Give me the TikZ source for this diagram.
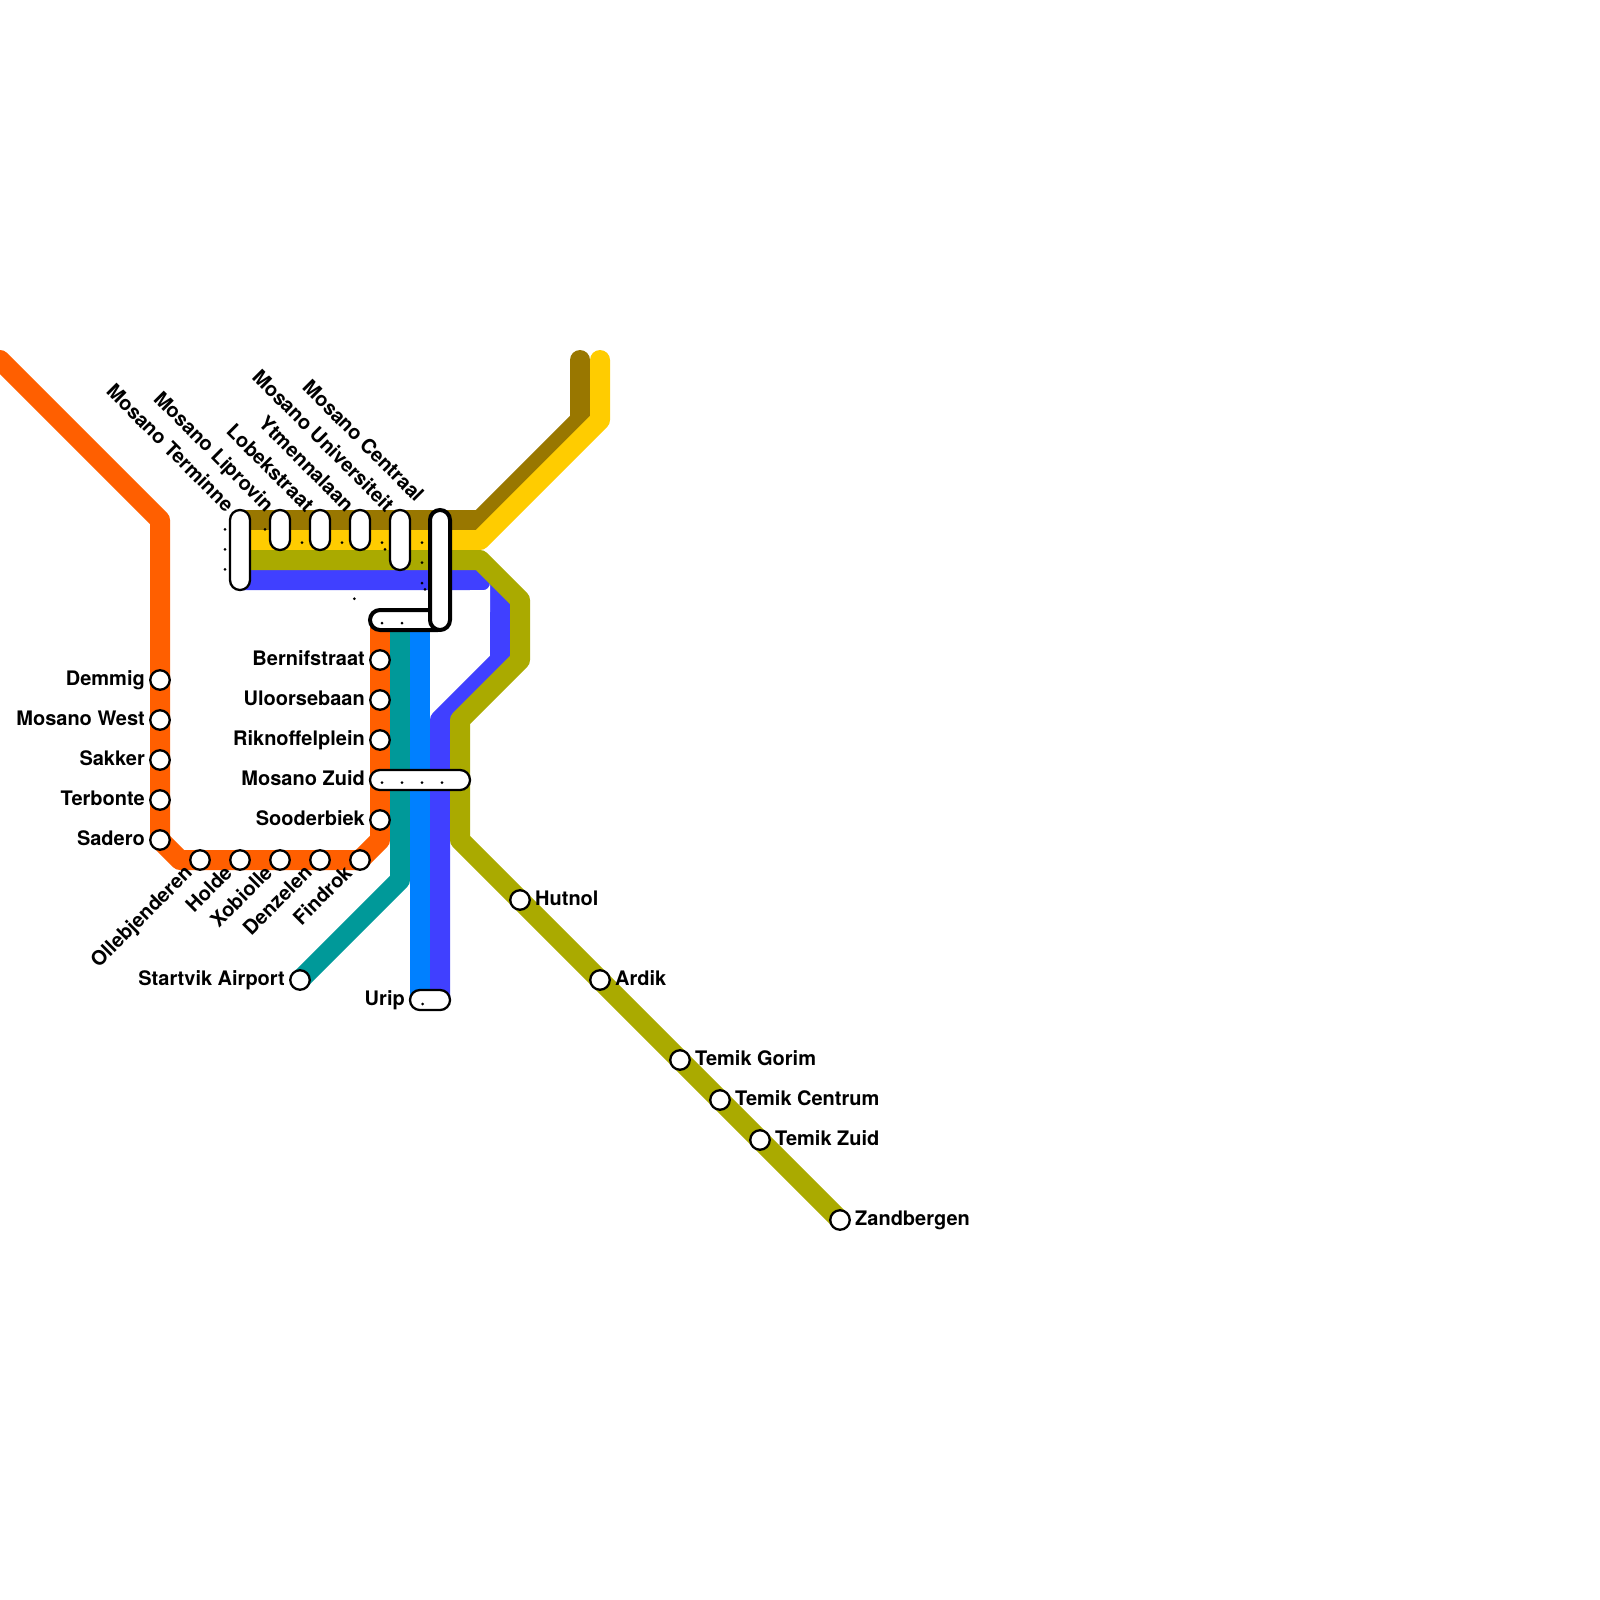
\documentclass[tikz,border=0pt]{standalone}
\usepackage{fontspec}
\setmainfont{TeX Gyre Heros}
\definecolor{cOrange}{HTML}{FF5F00}
\definecolor{cTeal}{HTML}{009999}
\definecolor{cBlue}{HTML}{0080FF}
\definecolor{cIndigo}{HTML}{4040FF}
\definecolor{cOlive}{HTML}{AAAA00}
\definecolor{cBrown}{HTML}{997700}
\definecolor{cYellow}{HTML}{FFCC00}
\tikzset{
  railline/.style={line width=20pt,line cap=round,line join=round},
  stn/.style={circle,draw=black,fill=white,line width=2.3pt,minimum size=19.5pt,inner sep=0pt},
  hub/.style={rectangle,rounded corners=9.9pt,draw=black,fill=white,line width=2.3pt,inner sep=0pt},
  bighub/.style={rectangle,rounded corners=10pt,draw=black,fill=white,line width=4pt,inner sep=0pt},
  lab/.style={font=\fontsize{20pt}{20pt}\selectfont\bfseries,inner sep=0pt,text=black},
  labl/.style={lab,anchor=base east},
  labr/.style={lab,anchor=base west},
  labd/.style={lab,anchor=base east,rotate=-45},
  labu/.style={lab,anchor=base east,rotate=45},
  dot/.style={fill=black},
}
\begin{document}
\begin{tikzpicture}[x=1pt,y=-1pt]
\useasboundingbox (0,0) rectangle (1600,1600);
% way points
\coordinate (oa) at (0,360); \coordinate (ob) at (160,520); \coordinate (oc) at (160,840);
\coordinate (od) at (180,860); \coordinate (oe) at (360,860); \coordinate (of) at (380,840); \coordinate (og) at (380,620);
\coordinate (ta) at (400,620); \coordinate (tb) at (400,880); \coordinate (tc) at (300,980);
\coordinate (ba) at (420,620); \coordinate (bb) at (420,1000);
\coordinate (ra) at (240,520); \coordinate (rb) at (480,520); \coordinate (rc) at (580,420); \coordinate (rd) at (580,360);
\coordinate (ya) at (240,540); \coordinate (yb) at (480,540); \coordinate (yc) at (600,420); \coordinate (yd) at (600,360);
\coordinate (ia) at (240,580); \coordinate (ib) at (480,580); \coordinate (ic) at (500,600); \coordinate (id) at (500,660); \coordinate (ie) at (440,720); \coordinate (if) at (440,1000);
\coordinate (la) at (240,560); \coordinate (lb) at (480,560); \coordinate (lc) at (520,600); \coordinate (ld) at (520,660); \coordinate (le) at (460,720); \coordinate (lf) at (460,840); \coordinate (lg) at (840,1220);
% lines
\draw[railline,cOrange] (oa)--(ob)--(oc)--(od)--(oe)--(of)--(og);
\draw[railline,cTeal] (ta)--(tb)--(tc);
\draw[railline,cBlue] (ba)--(bb);
\draw[railline,cBrown] (ra)--(rb)--(rc)--(rd);
\draw[railline,cYellow] (ya)--(yb)--(yc)--(yd);
\draw[railline,cIndigo] (ia)--(ib)--(ic)--(id)--(ie)--(if);
\fill[white] (470,590.2) -- (483,590.2) arc[start angle=90,end angle=0,radius=7] -- (490,612) -- (470,612) -- cycle;
\draw[railline,cOlive] (la)--(lb)--(lc)--(ld)--(le)--(lf)--(lg);
% interchanges
\node[hub,minimum width=20pt,minimum height=80pt] (terminne) at (240,550) {};
\node[hub,minimum width=20pt,minimum height=40pt] (liprovin) at (280,530) {};
\node[hub,minimum width=20pt,minimum height=40pt] (lobek) at (320,530) {};
\node[hub,minimum width=20pt,minimum height=40pt] (ytmen) at (360,530) {};
\node[hub,minimum width=20pt,minimum height=60pt] (univ) at (400,540) {};
\node[bighub,minimum width=78pt,minimum height=20pt] (centraalh) at (409,620) {};
\node[bighub,minimum width=20pt,minimum height=120pt] (centraal) at (440,570) {};
\node[hub,minimum width=100pt,minimum height=20pt] (zuid) at (420,780) {};
\node[hub,minimum width=40pt,minimum height=20pt] (urip) at (430,1000) {};
% stations
\node[stn] (demmig) at (160,680) {};
\node[stn] (west) at (160,720) {};
\node[stn] (sakker) at (160,760) {};
\node[stn] (terbonte) at (160,800) {};
\node[stn] (sadero) at (160,840) {};
\node[stn] (olle) at (200,860) {};
\node[stn] (holde) at (240,860) {};
\node[stn] (xobiolle) at (280,860) {};
\node[stn] (denzelen) at (320,860) {};
\node[stn] (findrok) at (360,860) {};
\node[stn] (sooder) at (380,820) {};
\node[stn] (rikn) at (380,740) {};
\node[stn] (uloor) at (380,700) {};
\node[stn] (bernif) at (380,660) {};
\node[stn] (startvik) at (300,980) {};
\node[stn] (hutnol) at (520,900) {};
\node[stn] (ardik) at (600,980) {};
\node[stn] (gorim) at (680,1060) {};
\node[stn] (centrum) at (720,1100) {};
\node[stn] (zuidt) at (760,1140) {};
\node[stn] (zand) at (840,1220) {};
% labels
\node[labl] (t1) at (145,685) {Demmig};
\node[labl] (t2) at (145,725) {Mosano West};
\node[labl] (t3) at (145,765) {Sakker};
\node[labl] (t4) at (145,805) {Terbonte};
\node[labl] (t5) at (145,845) {Sadero};
\node[labl] (t6) at (365,665) {Bernifstraat};
\node[labl] (t7) at (365,705) {Uloorsebaan};
\node[labl] (t8) at (365,745) {Riknoffelplein};
\node[labl] (t9) at (365,785) {Mosano Zuid};
\node[labl] (t10) at (365,825) {Sooderbiek};
\node[labl] (t11) at (285,985) {Startvik Airport};
\node[labl] (t12) at (405,1005) {Urip};
\node[labr] (t13) at (535,905) {Hutnol};
\node[labr] (t14) at (615,985) {Ardik};
\node[labr] (t15) at (695,1065) {Temik Gorim};
\node[labr] (t16) at (735,1105) {Temik Centrum};
\node[labr] (t17) at (775,1145) {Temik Zuid};
\node[labr] (t18) at (855,1225) {Zandbergen};
\node[labu] (t19) at (193.5,874) {Ollebjenderen};
\node[labu] (t20) at (233.5,874) {Holde};
\node[labu] (t21) at (273.5,874) {Xobiolle};
\node[labu] (t22) at (313.5,874) {Denzelen};
\node[labu] (t23) at (353.5,874) {Findrok};
\node[labd] (t24) at (225.5,513) {Mosano Terminne};
\node[labd] (t25) at (265.5,513) {Mosano Liprovin};
\node[labd] (t26) at (305.5,513) {Lobekstraat};
\node[labd] (t27) at (345.5,513) {Ytmennalaan};
\node[labd] (t28) at (385.5,513) {Mosano Universiteit};
\node[labd] (t29) at (415.5,503) {Mosano Centraal};
% stray dots
\foreach \p in {(225,529.3),(225,549.3),(225,569.3),(265,529.3),(302,542.7),(342,542.7),(382,542.7),(385,549.3),(422,542.7),(422,562.7),(422,583),(425,589.3),(354.3,598.7),(382,623),(402,623),(382,782.7),(402,782.7),(422,782.7),(442,782.7),(422.7,1004)}
  \fill[dot] \p circle[radius=1.5pt];
\end{tikzpicture}
\end{document}
